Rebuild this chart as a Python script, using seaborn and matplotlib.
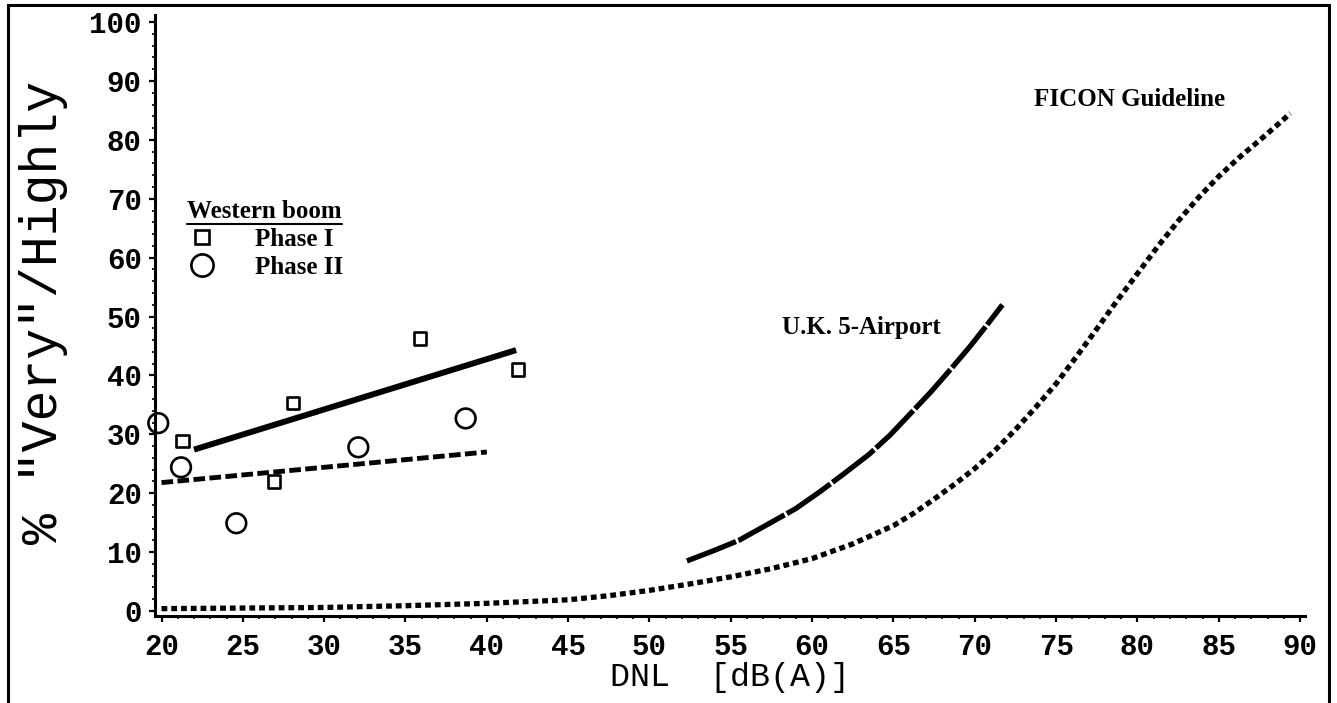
import matplotlib
matplotlib.use('Agg')
import matplotlib.pyplot as plt
from matplotlib.lines import Line2D
from matplotlib.patches import Rectangle
import seaborn as sns
import pandas as pd

# Western boom survey points
phase1_dnl = [21.3, 26.9, 28.1, 35.9, 41.9]
phase1_pct = [28.9, 22.0, 35.3, 46.3, 41.0]
phase2_dnl = [19.8, 21.2, 24.6, 32.1, 38.7]
phase2_pct = [31.9, 24.4, 14.9, 27.8, 32.7]

# fitted lines through the two phases
fit1_dnl = [22.0, 41.8]
fit1_pct = [27.4, 44.3]
fit2_dnl = [20.0, 40.0]
fit2_pct = [21.8, 27.0]

# U.K. 5-Airport curve
uk_dnl = [52.3, 54.0, 55.5, 57.0, 59.0, 60.5, 62.0, 63.5, 64.8, 66.0, 67.3, 68.5, 69.7, 70.7, 71.7]
uk_pct = [8.5, 10.3, 12.0, 14.3, 17.4, 20.3, 23.4, 26.6, 29.9, 33.4, 37.2, 41.0, 44.9, 48.4, 52.0]

# FICON guideline curve
ficon_dnl = [20, 25, 30, 35, 40, 45, 47.5, 50, 52.5, 55, 57.5, 60, 62.5, 65,
             66.25, 67.5, 68.75, 70, 71.25, 72.5, 73.75, 75, 76.25, 77.5, 78.75,
             80, 81.25, 82.5, 83.75, 85, 86.25, 87.5, 88.5, 89.4]
ficon_pct = [0.4, 0.5, 0.6, 0.9, 1.3, 1.9, 2.6, 3.5, 4.6, 5.8, 7.2, 8.9, 11.4, 14.5,
             16.6, 19.0, 21.5, 24.2, 27.3, 30.8, 34.6, 38.6, 43.2, 47.9, 52.7,
             57.3, 61.9, 66.2, 70.2, 73.8, 77.0, 79.9, 82.3, 84.5]

x_ticks = list(range(20, 95, 5))
y_ticks = list(range(0, 110, 10))

sns.set_style('ticks')
plt.rcParams['font.family'] = ['Liberation Mono', 'DejaVu Sans']
plt.rcParams['text.color'] = 'black'
plt.rcParams['axes.labelcolor'] = 'black'

fig = plt.figure(figsize=(13.37, 7.03), dpi=100)
ax = fig.add_axes([155 / 1337, 1 - 616 / 703, 1150 / 1337, 601 / 703])

ink = 'black'
serif_bold = dict(family='Liberation Serif', weight='bold', size=18)

ficon = pd.DataFrame({'dnl': ficon_dnl, 'pct': ficon_pct})
sns.lineplot(data=ficon, x='dnl', y='pct', ax=ax, color=ink, lw=3.8,
             linestyle=(0, (1.1, 0.75)), dash_capstyle='butt')

uk = pd.DataFrame({'dnl': uk_dnl, 'pct': uk_pct})
sns.lineplot(data=uk, x='dnl', y='pct', ax=ax, color=ink, lw=3.8,
             linestyle=(0, (10, 0.5)), dash_capstyle='butt')

sns.lineplot(x=fit1_dnl, y=fit1_pct, ax=ax, color=ink, lw=4.3,
             solid_capstyle='butt')
sns.lineplot(x=fit2_dnl, y=fit2_pct, ax=ax, color=ink, lw=3.5,
             linestyle=(0, (2.4, 0.9)), dash_capstyle='butt')

sns.scatterplot(x=phase1_dnl, y=phase1_pct, ax=ax, marker='s', s=80,
                facecolor='none', edgecolor=ink, linewidth=1.9, clip_on=False, zorder=5)
sns.scatterplot(x=phase2_dnl, y=phase2_pct, ax=ax, marker='o', s=200,
                facecolor='none', edgecolor=ink, linewidth=1.9, clip_on=False, zorder=5)

ax.text(63.05, 48.2, 'U.K. 5-Airport', ha='center', va='center', color=ink, fontdict=serif_bold)
ax.text(79.5, 86.8, 'FICON Guideline', ha='center', va='center', color=ink, fontdict=serif_bold)

# legend
handles = [Line2D([], [], ls='none', marker='s', ms=10, mfc='none', mec=ink, mew=1.9),
           Line2D([], [], ls='none', marker='o', ms=16, mfc='none', mec=ink, mew=1.9)]
leg = ax.legend(handles, ['Phase I', 'Phase II'], title='Western boom',
                loc='upper left', bbox_to_anchor=(0.017, 0.713), frameon=False,
                prop=serif_bold, title_fontproperties=serif_bold, alignment='left',
                borderpad=0, handlelength=1.2, handletextpad=1.5, labelspacing=0.2,
                labelcolor=ink)
leg.get_title().set_color(ink)

ax.set_xlim(19.6, 90.3)
ax.set_ylim(-0.85, 101.2)
ax.set_xticks(x_ticks)
ax.set_yticks(y_ticks)
ax.set_xticks(range(20, 91), minor=True)
ax.set_yticks(range(0, 101, 2), minor=True)
ax.tick_params(which='major', direction='out', length=4.5, width=1.6, color=ink,
               labelsize=21, labelcolor=ink)
ax.tick_params(which='minor', direction='out', length=2.3, width=1.2, color=ink)
ax.tick_params(axis='x', pad=8)
ax.tick_params(axis='y', pad=5)
for lab in ax.get_xticklabels() + ax.get_yticklabels():
    lab.set_fontweight('bold')

for side in ['top', 'right']:
    ax.spines[side].set_visible(False)
for side in ['left', 'bottom']:
    ax.spines[side].set_linewidth(2.2)
    ax.spines[side].set_color(ink)

ax.set_xlabel('DNL  [dB(A)]', fontsize=24, color=ink)
ax.set_ylabel('% "Very"/Highly', fontsize=37, color=ink)
ax.xaxis.label.set_va('center')
ax.xaxis.set_label_coords(0.5, -0.103)
ax.yaxis.label.set_va('center')
ax.yaxis.set_label_coords(-0.097, 0.505)

# underline the legend title
fig.canvas.draw()
bb = leg.get_title().get_window_extent().transformed(fig.transFigure.inverted())
fig.add_artist(Line2D([bb.x0, bb.x1], [bb.y0 - 0.002, bb.y0 - 0.002],
                      transform=fig.transFigure, color=ink, lw=1.5))

# outer page frame
fig.add_artist(Rectangle((8 / 1337, -0.1), 1321 / 1337, 1.1 - 5 / 703, fill=False,
                         lw=2.2, edgecolor=ink, transform=fig.transFigure))

fig.savefig('out.png', dpi=100)
